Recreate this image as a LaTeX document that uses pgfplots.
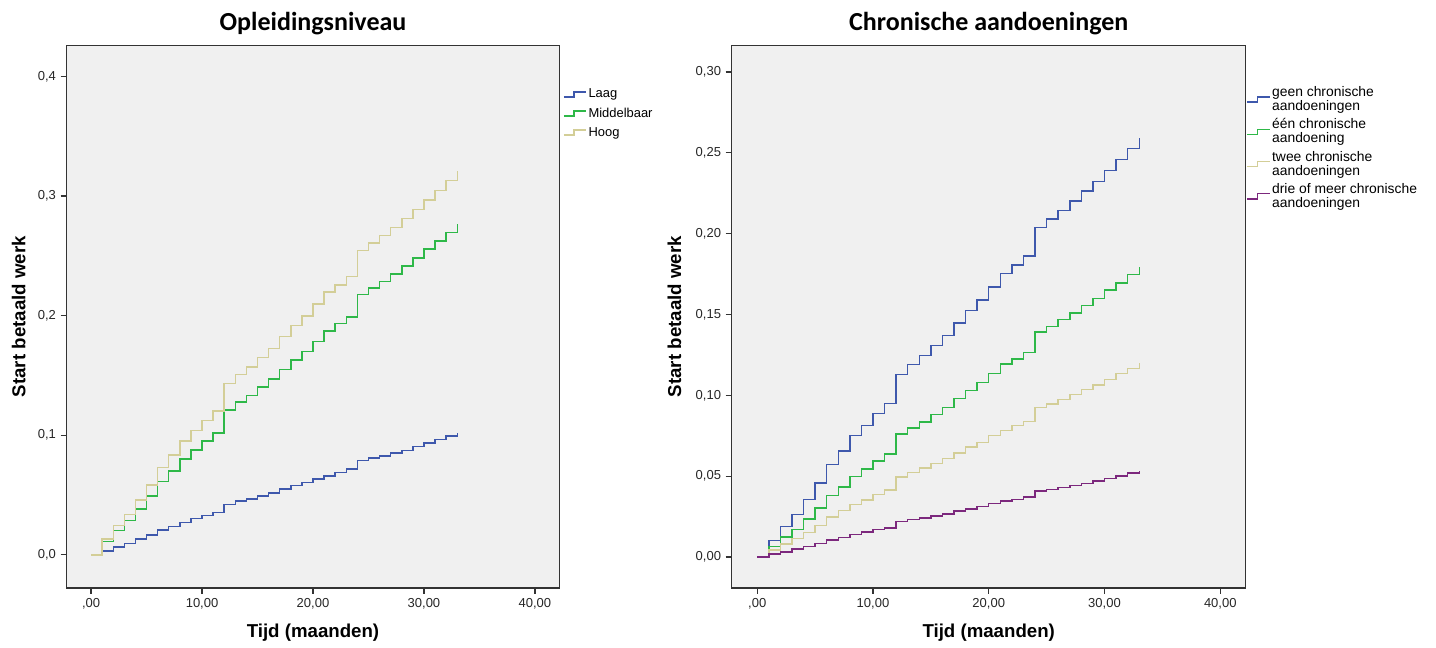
\documentclass[border=0pt]{standalone}
\usepackage{fontspec}
\setmainfont{Liberation Sans}
\newfontfamily\titlefont{Carlito}
\usepackage{pgfplots}
\pgfplotsset{compat=1.18}
\definecolor{spssblue}{RGB}{62,88,172}
\definecolor{spssgreen}{RGB}{46,184,72}
\definecolor{spssbeige}{RGB}{211,206,151}
\definecolor{spsspurple}{RGB}{124,40,125}
\definecolor{plotbg}{RGB}{240,240,240}

% cumulative incidence, one row per month
\pgfplotstableread{
m laag mid hoog
0 0 0 0
1 0.0033 0.0111 0.0133
2 0.0067 0.0203 0.0244
3 0.0094 0.0286 0.0339
4 0.0133 0.0383 0.0458
5 0.0167 0.0492 0.0583
6 0.0206 0.0614 0.0731
7 0.0239 0.0703 0.0836
8 0.0272 0.0800 0.0953
9 0.0306 0.0875 0.1040
10 0.0331 0.0953 0.1125
11 0.0353 0.1017 0.1203
12 0.0422 0.1211 0.1431
13 0.0450 0.1278 0.1506
14 0.0467 0.1333 0.1572
15 0.0492 0.1403 0.1650
16 0.0517 0.1472 0.1725
17 0.0550 0.1550 0.1825
18 0.0578 0.1628 0.1917
19 0.0606 0.1700 0.1997
20 0.0633 0.1786 0.2097
21 0.0661 0.1872 0.2197
22 0.0689 0.1933 0.2258
23 0.0717 0.1989 0.2328
24 0.0789 0.2178 0.2544
25 0.0808 0.2231 0.2606
26 0.0828 0.2286 0.2672
27 0.0850 0.2347 0.2739
28 0.0872 0.2414 0.2814
29 0.0905 0.2481 0.2889
30 0.0935 0.2556 0.2967
31 0.0965 0.2625 0.3047
32 0.0995 0.2694 0.3128
33 0.1020 0.2767 0.3211
}\opleiding

\pgfplotstableread{
m geen een twee drie
0 0 0 0 0
1 0.0101 0.0064 0.0043 0.0017
2 0.0188 0.0124 0.0079 0.0031
3 0.0264 0.0171 0.0114 0.0048
4 0.0357 0.0235 0.0151 0.0064
5 0.0458 0.0302 0.0196 0.0083
6 0.0572 0.0380 0.0246 0.0105
7 0.0655 0.0434 0.0287 0.0122
8 0.0750 0.0498 0.0324 0.0138
9 0.0814 0.0543 0.0353 0.0155
10 0.0888 0.0593 0.0386 0.0169
11 0.0948 0.0636 0.0415 0.0180
12 0.1130 0.0760 0.0494 0.0219
13 0.1192 0.0797 0.0522 0.0231
14 0.1245 0.0834 0.0549 0.0240
15 0.1309 0.0880 0.0578 0.0252
16 0.1371 0.0925 0.0609 0.0266
17 0.1448 0.0979 0.0642 0.0283
18 0.1524 0.1030 0.0679 0.0297
19 0.1590 0.1078 0.0708 0.0312
20 0.1671 0.1136 0.0750 0.0330
21 0.1753 0.1194 0.0783 0.0347
22 0.1805 0.1225 0.0812 0.0357
23 0.1861 0.1266 0.0838 0.0370
24 0.2038 0.1392 0.0923 0.0409
25 0.2092 0.1427 0.0946 0.0417
26 0.2142 0.1470 0.0975 0.0429
27 0.2201 0.1510 0.1004 0.0442
28 0.2263 0.1555 0.1035 0.0456
29 0.2323 0.1599 0.1064 0.0471
30 0.2392 0.1650 0.1099 0.0485
31 0.2458 0.1696 0.1134 0.0502
32 0.2526 0.1747 0.1167 0.0518
33 0.2594 0.1795 0.1200 0.0533
}\chronisch

\pgfplotsset{
  spss/.style={
    scale only axis,
    height=407pt,
    axis background/.style={fill=plotbg},
    axis line style={black!80, line width=0.9pt},
    tick align=outside,
    xtick pos=bottom, ytick pos=left,
    major tick length=4.5pt,
    tick style={black!80, line width=0.9pt},
    xmin=-2.2, xmax=42.2,
    xtick={0,10,20,30,40},
    xticklabels={{,00},{10,00},{20,00},{30,00},{40,00}},
    tick label style={font=\fontsize{9.75}{11}\selectfont, text=black!85},
    xlabel={\bfseries Tijd (maanden)},
    ylabel={\bfseries Start betaald werk},
    label style={font=\fontsize{14}{16}\selectfont},
    x label style={at={(axis description cs:0.5,-0.083)}, anchor=center},
    title style={font=\titlefont\bfseries\fontsize{19.5}{22}\selectfont,
      at={(axis description cs:0.5,1)}, anchor=center, yshift=10pt},
    legend style={draw=none, fill=none, at={(1,1)}, anchor=north west,
      font=\fontsize{9.7}{10.5}\selectfont, inner sep=0pt, row sep=4pt,
      nodes={inner sep=1pt}, cells={anchor=west, align=left}},
    legend image code/.code={
      \draw[#1] (0pt,-1.9pt) -- (7.5pt,-1.9pt) -- (7.5pt,1.9pt) -- (17pt,1.9pt);},
    every axis plot/.append style={const plot, line width=1.1pt},
  }
}

\begin{document}
\begin{tikzpicture}
\path[use as bounding box] (0,0) rectangle (1077pt,486pt);

\begin{axis}[spss,
  at={(50pt,45pt)}, anchor=south west,
  width=369.5pt,
  title={Opleidingsniveau},
  ymin=-0.0277, ymax=0.426,
  ytick={0,0.1,0.2,0.3,0.4},
  yticklabels={{0,0},{0,1},{0,2},{0,3},{0,4}},
  y label style={at={(axis description cs:-0.0974,0.5)}, anchor=center},
  legend style={xshift=2.6pt, yshift=-31.5pt},
]
\addplot[spssblue] table[x=m, y=laag] {\opleiding};
\addlegendentry{Laag}
\addplot[spssgreen] table[x=m, y=mid] {\opleiding};
\addlegendentry{Middelbaar}
\addplot[spssbeige] table[x=m, y=hoog] {\opleiding};
\addlegendentry{Hoog}
\end{axis}

\begin{axis}[spss,
  at={(548.8pt,45pt)}, anchor=south west,
  width=385.5pt,
  title={Chronische aandoeningen},
  ymin=-0.0192, ymax=0.3165,
  ytick={0,0.05,0.1,0.15,0.2,0.25,0.3},
  yticklabels={{0,00},{0,05},{0,10},{0,15},{0,20},{0,25},{0,30}},
  y label style={at={(axis description cs:-0.1117,0.5)}, anchor=center},
  legend style={xshift=0.5pt, yshift=-29.7pt, row sep=2.6pt,
    font=\fontsize{10.4}{10.5}\selectfont},
]
\addplot[spssblue] table[x=m, y=geen] {\chronisch};
\addlegendentry{geen chronische\\aandoeningen}
\addplot[spssgreen] table[x=m, y=een] {\chronisch};
\addlegendentry{één chronische\\aandoening}
\addplot[spssbeige] table[x=m, y=twee] {\chronisch};
\addlegendentry{twee chronische\\aandoeningen}
\addplot[spsspurple] table[x=m, y=drie] {\chronisch};
\addlegendentry{drie of meer chronische\\aandoeningen}
\end{axis}
\end{tikzpicture}
\end{document}
